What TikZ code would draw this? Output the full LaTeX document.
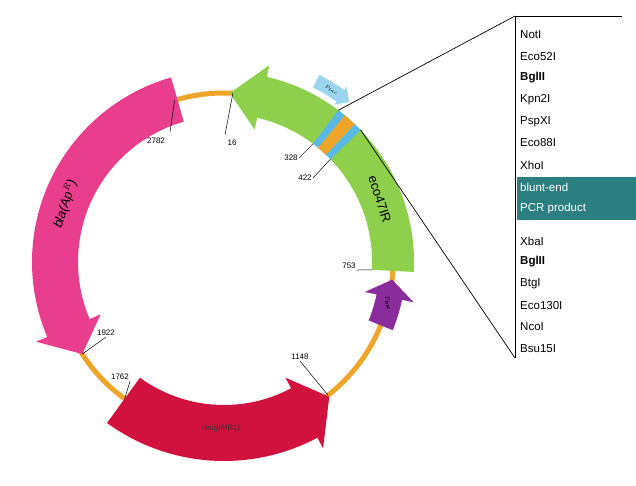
\documentclass[tikz,border=0pt]{standalone}
\usepackage{fontspec}
\setmainfont{Liberation Sans}
\usetikzlibrary{positioning}
\definecolor{ringorange}{HTML}{EFA52A}
\definecolor{genegreen}{HTML}{8ED04C}
\definecolor{genepink}{HTML}{E93E8E}
\definecolor{genered}{HTML}{D2123E}
\definecolor{genepurple}{HTML}{8A2C9C}
\definecolor{siteblue}{HTML}{58B9E6}
\definecolor{bluntteal}{HTML}{2C7F80}
\tikzset{%
	pos label/.style={font=\fontsize{8}{9}\selectfont, inner sep=1pt},
	site/.style={font=\fontsize{11.5}{13}\selectfont, anchor=west, inner sep=0pt},
	tick/.style={draw, line width=0.5pt},
}
% ccw arc arrow: start angle, head base angle, tip angle, inner r, outer r, colour
\newcommand{\plasmidarrow}[6]{%
	\fill[#6] ([shift={(C)}]#1:#4) arc[start angle=#1, end angle=#2, radius=#4]
		-- ([shift={(C)}]#2:#4-12) -- ([shift={(C)}]#3:{(#4+#5)/2})
		-- ([shift={(C)}]#2:#5+12) -- ([shift={(C)}]#2:#5)
		arc[start angle=#2, end angle=#1, radius=#5] -- cycle;}
\begin{document}
\begin{tikzpicture}[x=1pt, y=1pt]
	\useasboundingbox[fill=white] (0,0) rectangle (636,-486);
	\coordinate (C) at (224,-262);

	% backbone
	\draw[ringorange, line width=5pt] (C) circle[radius=169];

	% genes
	\plasmidarrow{-3}{77}{88}{148}{190}{genegreen}
	\plasmidarrow{106}{203}{213}{146}{192}{genepink}
	\plasmidarrow{234}{298}{308}{143}{199}{genered}
	\plasmidarrow{-22}{-12}{-6}{156}{182}{genepurple}

	% cloning sites
	\fill[siteblue] ([shift={(C)}]44:148) arc[start angle=44, end angle=53, radius=148]
		-- ([shift={(C)}]53:190) arc[start angle=53, end angle=44, radius=190] -- cycle;
	\fill[ringorange] ([shift={(C)}]46.5:148) arc[start angle=46.5, end angle=50.5, radius=148]
		-- ([shift={(C)}]50.5:190) arc[start angle=50.5, end angle=46.5, radius=190] -- cycle;

	% promoter tac
	\fill[siteblue!60] ([shift={(C)}]63:196) arc[start angle=63, end angle=55, radius=196]
		-- ([shift={(C)}]55:192) -- ([shift={(C)}]52:203) -- ([shift={(C)}]55:214)
		-- ([shift={(C)}]55:210) arc[start angle=55, end angle=63, radius=210] -- cycle;
	\node[font=\fontsize{5}{6}\selectfont, rotate=-30] (ptac) at ([shift={(C)}]58:203) {$P_{tac}$};

	% gene labels
	\node[font=\fontsize{13}{14}\selectfont, rotate=-72] (eco) at ([shift={(C)}]22:168) {eco47IR};
	\node[font=\itshape\fontsize{13}{14}\selectfont, rotate=72] (bla) at ([shift={(C)}]160:169) {bla(Ap$^R$)};
	\node[font=\itshape\fontsize{8}{9}\selectfont, text=black!80] (rep) at ([shift={(C)}]269:166) {rep(pMB1)};
	\node[font=\fontsize{6}{7}\selectfont, rotate=-75] (ptet) at ([shift={(C)}]-14:169) {$P_{\mathit{tetA}}$};

	% positions
	\node[pos label] (p16) at (232,-143) {16};
	\node[pos label] (p2782) at (156,-141) {2782};
	\node[pos label] (p328) at (291,-158) {328};
	\node[pos label] (p422) at (305,-178) {422};
	\node[pos label] (p753) at (349,-266) {753};
	\node[pos label] (p1922) at (106,-333) {1922};
	\node[pos label] (p1762) at (120,-377) {1762};
	\node[pos label] (p1148) at (300,-357) {1148};
	\draw[tick] (225,-135) -- ([shift={(C)}]87:169);
	\draw[tick] (170,-132) -- ([shift={(C)}]107:169);
	\draw[tick] (p328.east) -- ([shift={(C)}]53:148);
	\draw[tick] (p422.east) -- ([shift={(C)}]44:148);
	\draw[tick] (p753.south east) -- ([shift={(C)}]-3:148);
	\draw[tick] (p1922.south) -- ([shift={(C)}]213:169);
	\draw[tick] (p1762.south east) -- ([shift={(C)}]234:169);
	\draw[tick] (p1148.south) -- ([shift={(C)}]308:169);

	% site list
	\coordinate (top) at (515,-16);
	\coordinate (bottom) at (515,-358);
	\draw[line width=0.7pt] (622,-16) -- (top) -- (bottom);
	\fill[bluntteal] (517,-177) rectangle (636,-220);
	\node[site] (s1) at (520,-35) {NotI};
	\node[site] (s2) at (520,-57) {Eco52I};
	\node[site] (s3) at (520,-78) {\bfseries BglII};
	\node[site] (s4) at (520,-100) {Kpn2I};
	\node[site] (s5) at (520,-122) {PspXI};
	\node[site] (s6) at (520,-143) {Eco88I};
	\node[site] (s7) at (520,-165) {XhoI};
	\node[site, text=white] (s8) at (520,-187) {blunt-end};
	\node[site, text=white] (s9) at (520,-209) {PCR product};
	\node[site] (s10) at (520,-241) {XbaI};
	\node[site] (s11) at (520,-262) {\bfseries BglII};
	\node[site] (s12) at (520,-284) {BtgI};
	\node[site] (s13) at (520,-306) {Eco130I};
	\node[site] (s14) at (520,-327) {NcoI};
	\node[site] (s15) at (520,-349) {Bsu15I};
	\draw[line width=0.7pt] ([shift={(C)}]53:190) -- (top);
	\draw[line width=0.7pt] ([shift={(C)}]44:190) -- (bottom);
\end{tikzpicture}
\end{document}
